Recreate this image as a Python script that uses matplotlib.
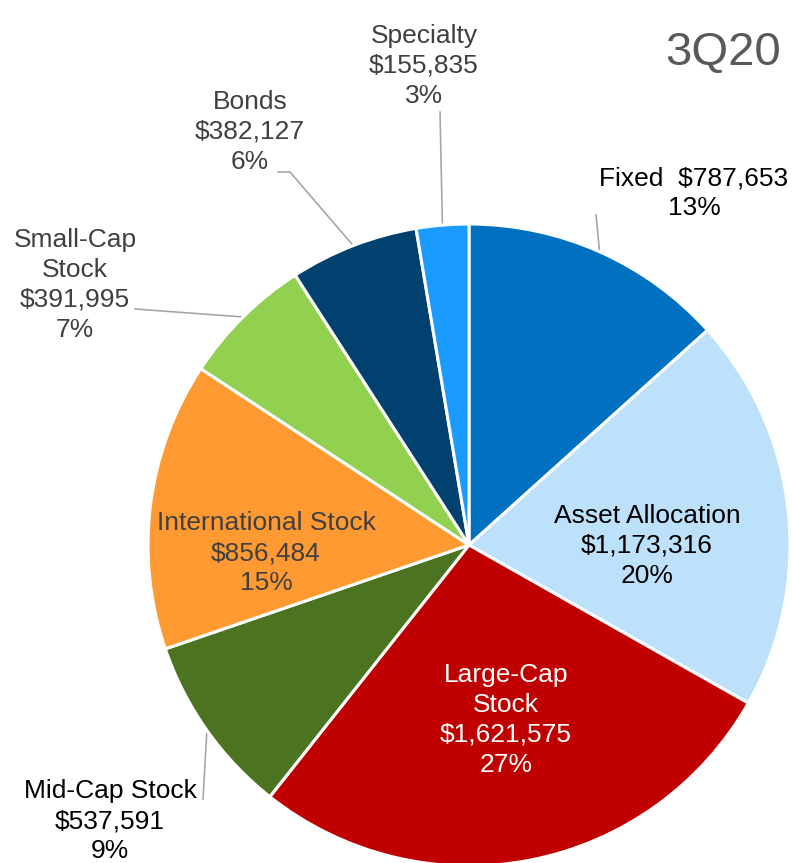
import matplotlib
matplotlib.use("Agg")
import matplotlib.pyplot as plt
import numpy as np

# data (clockwise from 12 o'clock)
categories = ["Fixed", "Asset Allocation", "Large-Cap Stock", "Mid-Cap Stock",
              "International Stock", "Small-Cap Stock", "Bonds", "Specialty"]
values = [787653, 1173316, 1621575, 537591, 856484, 391995, 382127, 155835]
label_text = ["Fixed  $787,653\n13%",
              "Asset Allocation\n$1,173,316\n20%",
              "Large-Cap\nStock\n$1,621,575\n27%",
              "Mid-Cap Stock\n$537,591\n9%",
              "International Stock\n$856,484\n15%",
              "Small-Cap\nStock\n$391,995\n7%",
              "Bonds\n$382,127\n6%",
              "Specialty\n$155,835\n3%"]
colors = ["#0070C0", "#BDE1FB", "#C00000", "#4B7320",
          "#FF9A33", "#92D050", "#00416F", "#1A9BFF"]
text_colors = ["#000000", "#000000", "#FFFFFF", "#000000",
               "#404040", "#404040", "#404040", "#404040"]

# layout (pixel positions, y measured from top)
W, H = 793, 863
cx, cy, R = 469, 545, 321
label_pos = [(694, 193), (647, 546), (506, 720), (110, 821),
             (266, 553), (75, 285), (250, 132), (424, 66)]
# leader line start points (None = label inside the slice)
leader_start = [[(596, 215)], None, None, [(203, 799)],
                None, [(135, 309)], [(278, 172), (290, 172)], [(440, 112)]]

fig = plt.figure(figsize=(W / 100, H / 100), dpi=100)
ax = fig.add_axes([0, 0, 1, 1])

wedges, _ = ax.pie(values, colors=colors, startangle=90, counterclock=False,
                   radius=R, center=(cx, H - cy),
                   wedgeprops=dict(edgecolor="white", linewidth=2.2))
ax.set_xlim(0, W)
ax.set_ylim(0, H)
ax.set_aspect("equal")
ax.axis("off")

font = "Liberation Sans"
for i, w in enumerate(wedges):
    lx, ly = label_pos[i]
    ax.text(lx, H - ly, label_text[i], ha="center", va="center",
            fontsize=19, color=text_colors[i], family=font, linespacing=1.3)
    if leader_start[i] is not None:
        mid = np.deg2rad((w.theta1 + w.theta2) / 2)
        ex, ey = cx + R * np.cos(mid), (H - cy) + R * np.sin(mid)
        xs = [p[0] for p in leader_start[i]] + [ex]
        ys = [H - p[1] for p in leader_start[i]] + [ey]
        ax.plot(xs, ys, color="#A6A6A6", lw=1.2, zorder=0)

ax.text(723, H - 53, "3Q20", ha="center", va="center", fontsize=34,
        color="#595959", family=font)

fig.savefig("out.png", dpi=100)
